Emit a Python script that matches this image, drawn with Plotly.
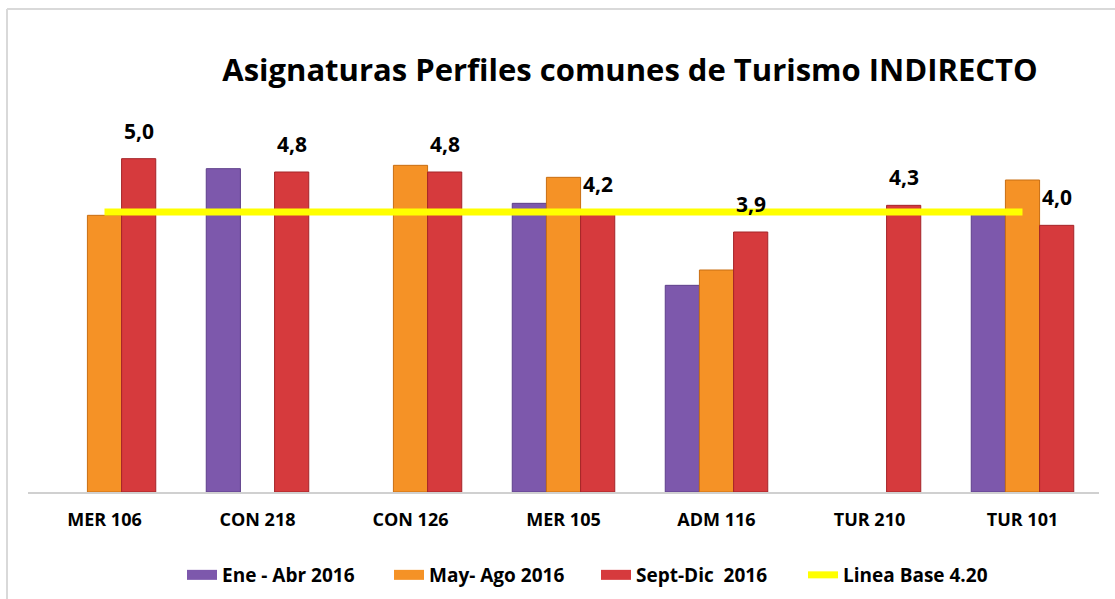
import plotly.graph_objects as go

categories = ["MER 106", "CON 218", "CON 126", "MER 105", "ADM 116", "TUR 210", "TUR 101"]
ene_abr = [None, 4.85, None, 4.33, 3.10, None, 4.20]
may_ago = [4.15, None, 4.90, 4.72, 3.33, None, 4.68]
sept_dic = [5.0, 4.8, 4.8, 4.2, 3.9, 4.3, 4.0]
linea_base = [4.20] * len(categories)

series_names = ["Ene - Abr 2016", "May- Ago 2016", "Sept-Dic  2016", "Linea Base 4.20"]
colors = ["#7D58AC", "#F59226", "#D63A3D"]
edge_colors = ["#5E3F8A", "#C86E12", "#A52428"]

W, H = 1115, 599
L, R, T, B = 28, 16, 92, 107
FONT = "Open Sans"

fig = go.Figure()
for name, vals, c, ec in zip(series_names[:3], [ene_abr, may_ago, sept_dic], colors, edge_colors):
    fig.add_trace(go.Bar(x=categories, y=vals, name=name, showlegend=False, legendgroup=name,
                         marker=dict(color=c, line=dict(color=ec, width=1))))

fig.add_trace(go.Scatter(x=categories, y=linea_base, name=series_names[3], mode="lines",
                         showlegend=False, legendgroup=series_names[3],
                         line=dict(color="#FFFF00", width=7)))

# legend entries (wide rectangular symbols like the original)
for name, c in zip(series_names[:3], colors):
    fig.add_trace(go.Scatter(x=[None], y=[None], mode="lines", name=f"<b>{name}</b>",
                             legendgroup=name, line=dict(color=c, width=11)))
fig.add_trace(go.Scatter(x=[None], y=[None], mode="lines", name=f"<b>{series_names[3]}</b>",
                         legendgroup=series_names[3], line=dict(color="#FFFF00", width=7)))

# data labels for Sept-Dic series
bar_px = (W - L - R) / len(categories) * (1 - 0.33) / 3
for cat, v in zip(categories, sept_dic):
    fig.add_annotation(x=cat, y=v, text=f"<b>{v:.1f}</b>".replace(".", ","),
                       showarrow=False, xshift=bar_px, yanchor="bottom", yshift=12,
                       font=dict(family=FONT, size=21, color="#000000"))

fig.update_layout(
    width=W, height=H,
    margin=dict(l=L, r=R, t=T, b=B, autoexpand=False),
    paper_bgcolor="white", plot_bgcolor="white",
    barmode="group", bargap=0.33, bargroupgap=0,
    title=dict(text="<b>Asignaturas Perfiles comunes de Turismo INDIRECTO</b>",
               x=0.565, xanchor="center", y=1 - 70 / H, yanchor="middle",
               font=dict(family=FONT, size=31, color="#000000")),
    font=dict(family=FONT, color="#000000"),
    xaxis=dict(showline=True, linecolor="#D0D0D0", linewidth=2, ticks="", automargin=False,
               ticklabelstandoff=10,
               tickfont=dict(family=FONT, size=18, color="#000000"),
               tickprefix="<b>", ticksuffix="</b>"),
    yaxis=dict(range=[0, 6], visible=False, showgrid=False, automargin=False),
    legend=dict(orientation="h", xref="container", x=596 / W, xanchor="center",
                yref="container", y=1 - 575 / H, yanchor="middle",
                font=dict(family=FONT, size=19, color="#000000"),
                entrywidth=162, entrywidthmode="pixels",
                traceorder="normal", itemwidth=30, tracegroupgap=0),
    showlegend=True,
    shapes=[
        dict(type="line", xref="paper", yref="paper",
             x0=(7 - L) / (W - L - R), x1=(W - L) / (W - L - R),
             y0=(H - B - 9) / (H - T - B), y1=(H - B - 9) / (H - T - B),
             line=dict(color="#D9D9D9", width=2)),
        dict(type="line", xref="paper", yref="paper",
             x0=(7 - L) / (W - L - R), x1=(7 - L) / (W - L - R),
             y0=(H - B - 9) / (H - T - B), y1=(H - B - H) / (H - T - B),
             line=dict(color="#D9D9D9", width=2)),
    ],
)

fig.write_html("out.html", config={"displayModeBar": False},
               post_script="document.body.style.margin='0px';")
